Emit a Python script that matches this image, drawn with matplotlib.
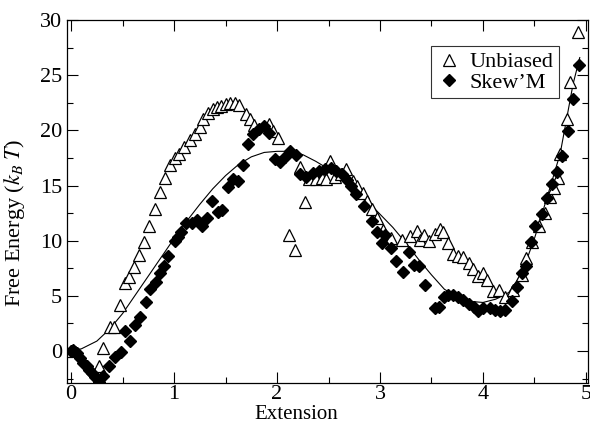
import numpy as np
import matplotlib
matplotlib.use("Agg")
import matplotlib.pyplot as plt
from matplotlib.ticker import MultipleLocator

plt.rcParams['font.family'] = ['Liberation Serif', 'DejaVu Serif']
plt.rcParams['mathtext.fontset'] = 'stix'

# unbiased free energy (open triangles)
unb_x = [0.00, 0.27, 0.31, 0.38, 0.42, 0.47, 0.52, 0.56, 0.61, 0.66, 0.71, 0.76,
         0.81, 0.86, 0.91, 0.96, 1.01, 1.05, 1.10, 1.15, 1.20, 1.25, 1.28, 1.33,
         1.38, 1.42, 1.46, 1.50, 1.54, 1.59, 1.63, 1.70, 1.74, 1.78, 1.92, 1.96,
         2.01, 2.12, 2.17, 2.22, 2.27, 2.31, 2.38, 2.44, 2.48, 2.51, 2.56, 2.62,
         2.67, 2.74, 2.78, 2.83, 2.87, 2.92, 2.97, 3.03, 3.11, 3.21, 3.29, 3.36,
         3.39, 3.43, 3.48, 3.53, 3.58, 3.61, 3.66, 3.71, 3.76, 3.81, 3.86, 3.90,
         3.95, 4.00, 4.04, 4.10, 4.16, 4.21, 4.29, 4.38, 4.42, 4.48, 4.54, 4.60,
         4.65, 4.69, 4.73, 4.75, 4.82, 4.85, 4.92]
unb_y = [0.0, -1.4, 0.3, 2.2, 2.2, 4.2, 6.2, 6.7, 7.6, 8.7, 9.9, 11.3,
         12.9, 14.4, 15.7, 16.9, 17.5, 17.9, 18.5, 19.1, 19.7, 20.3, 21.0, 21.6,
         21.9, 22.1, 22.2, 22.4, 22.5, 22.5, 22.3, 21.5, 21.0, 20.5, 20.6, 19.9,
         19.3, 10.5, 9.2, 16.7, 13.5, 15.6, 15.6, 15.7, 15.6, 17.2, 15.8, 16.0,
         16.5, 15.4, 15.0, 14.3, 13.6, 12.9, 12.1, 11.0, 10.2, 10.1, 10.4, 10.9,
         10.1, 10.5, 10.0, 10.6, 11.1, 10.8, 9.8, 8.8, 8.6, 8.5, 8.0, 7.4,
         6.8, 7.1, 6.4, 5.4, 5.5, 4.9, 5.5, 6.9, 8.4, 9.9, 11.3, 12.5,
         14.0, 14.8, 15.7, 17.9, 21.0, 24.4, 28.9]

# Skew'M free energy (filled diamonds)
skw_x = [0.00, 0.02, 0.04, 0.06, 0.09, 0.12, 0.15, 0.17, 0.20, 0.23, 0.27, 0.31,
         0.37, 0.43, 0.48, 0.52, 0.57, 0.62, 0.67, 0.73, 0.77, 0.82, 0.86, 0.90,
         0.94, 1.01, 1.04, 1.07, 1.12, 1.17, 1.22, 1.27, 1.32, 1.37, 1.43, 1.47,
         1.52, 1.57, 1.62, 1.67, 1.72, 1.77, 1.82, 1.87, 1.92, 1.98, 2.03, 2.08,
         2.13, 2.18, 2.22, 2.28, 2.35, 2.41, 2.47, 2.52, 2.57, 2.63, 2.68, 2.72,
         2.77, 2.84, 2.92, 2.97, 3.02, 3.05, 3.11, 3.16, 3.22, 3.28, 3.33, 3.38,
         3.44, 3.53, 3.57, 3.62, 3.66, 3.71, 3.76, 3.81, 3.86, 3.91, 3.95, 4.00,
         4.07, 4.12, 4.17, 4.21, 4.28, 4.33, 4.38, 4.42, 4.47, 4.51, 4.57, 4.62,
         4.67, 4.72, 4.77, 4.83, 4.87, 4.93]
skw_y = [0.0, 0.1, -0.1, -0.2, -0.6, -1.1, -1.4, -1.7, -2.0, -2.4, -2.8, -2.3,
         -1.4, -0.5, -0.1, 1.8, 0.9, 2.4, 3.1, 4.4, 5.6, 6.3, 7.1, 7.7,
         8.6, 10.0, 10.3, 10.8, 11.6, 11.6, 11.9, 11.3, 12.1, 13.6, 12.6, 12.8,
         14.9, 15.6, 15.4, 16.9, 18.8, 19.7, 20.1, 20.4, 19.8, 17.4, 17.1, 17.6,
         18.1, 17.8, 16.0, 15.8, 16.1, 16.3, 16.5, 16.6, 16.3, 16.0, 15.5, 15.0,
         14.2, 13.1, 11.8, 10.8, 9.8, 10.5, 9.3, 8.2, 7.2, 9.0, 7.8, 7.7,
         6.0, 3.9, 4.0, 4.9, 5.1, 5.1, 4.9, 4.6, 4.3, 4.0, 3.6, 3.9,
         3.9, 3.7, 3.6, 3.7, 4.5, 5.8, 7.1, 7.7, 9.9, 11.3, 12.4, 13.9,
         15.1, 16.2, 17.7, 19.9, 22.8, 25.9]

# smooth reference curve
fit_x = [0.0, 0.1, 0.25, 0.375, 0.5, 0.625, 0.75, 0.875, 1.0, 1.125, 1.25, 1.375,
         1.5, 1.625, 1.75, 1.875, 2.0, 2.125, 2.25, 2.375, 2.5, 2.625, 2.75, 2.875,
         3.0, 3.125, 3.25, 3.375, 3.5, 3.625, 3.75, 3.875, 4.0, 4.125, 4.25, 4.375,
         4.5, 4.625, 4.75, 4.875, 4.94]
fit_y = [0.0, 0.2, 0.9, 2.0, 3.4, 5.1, 6.8, 8.5, 10.2, 11.8, 13.3, 14.7,
         15.9, 16.9, 17.6, 18.0, 18.1, 18.1, 17.8, 17.2, 16.5, 15.6, 14.7, 13.6,
         12.4, 11.2, 9.8, 8.3, 6.9, 5.6, 4.9, 4.5, 4.4, 4.7, 5.3, 7.0,
         10.2, 14.0, 17.9, 24.2, 26.6]

fig = plt.figure(figsize=(5.9, 4.24), dpi=100)
ax = fig.add_axes([0.1136, 0.0967, 0.883, 0.856])

ax.plot(fit_x, fit_y, color='black', lw=0.8, zorder=1)
ax.plot(unb_x, unb_y, ls='none', marker='^', ms=8, mfc='white', mec='black',
        mew=0.9, label='Unbiased', zorder=2)
ax.plot(skw_x, skw_y, ls='none', marker='D', ms=6.5, mfc='black', mec='black',
        label='Skew\u2019M', zorder=3)

ax.set_xlim(-0.04, 5.02)
ax.set_ylim(-2.9, 30)
ax.xaxis.set_major_locator(MultipleLocator(1))
ax.xaxis.set_minor_locator(MultipleLocator(0.5))
ax.yaxis.set_major_locator(MultipleLocator(5))
ax.yaxis.set_minor_locator(MultipleLocator(2.5))
ax.tick_params(which='both', direction='in', top=True, right=True, labelsize=16)
ax.tick_params(which='major', length=8, width=0.8)
ax.tick_params(which='minor', length=4.5, width=0.8)
ax.tick_params(axis='x', which='major', pad=1.5)
for s in ax.spines.values():
    s.set_linewidth(0.9)

ax.set_xlabel('Extension', fontsize=15)
ax.xaxis.set_label_coords(0.44, -0.061)
ax.set_ylabel('Free Energy ($k_B\\;T$)', fontsize=16)
ax.yaxis.set_label_coords(-0.076, 0.44)

leg = ax.legend(loc='upper right', bbox_to_anchor=(0.944, 0.928), fontsize=16,
                frameon=True, fancybox=False, borderpad=0.25, handletextpad=0.3,
                labelspacing=0.0, handlelength=1.2, borderaxespad=0)
leg.get_frame().set_edgecolor('black')
leg.get_frame().set_linewidth(0.8)

fig.savefig('out.png', dpi=100)
